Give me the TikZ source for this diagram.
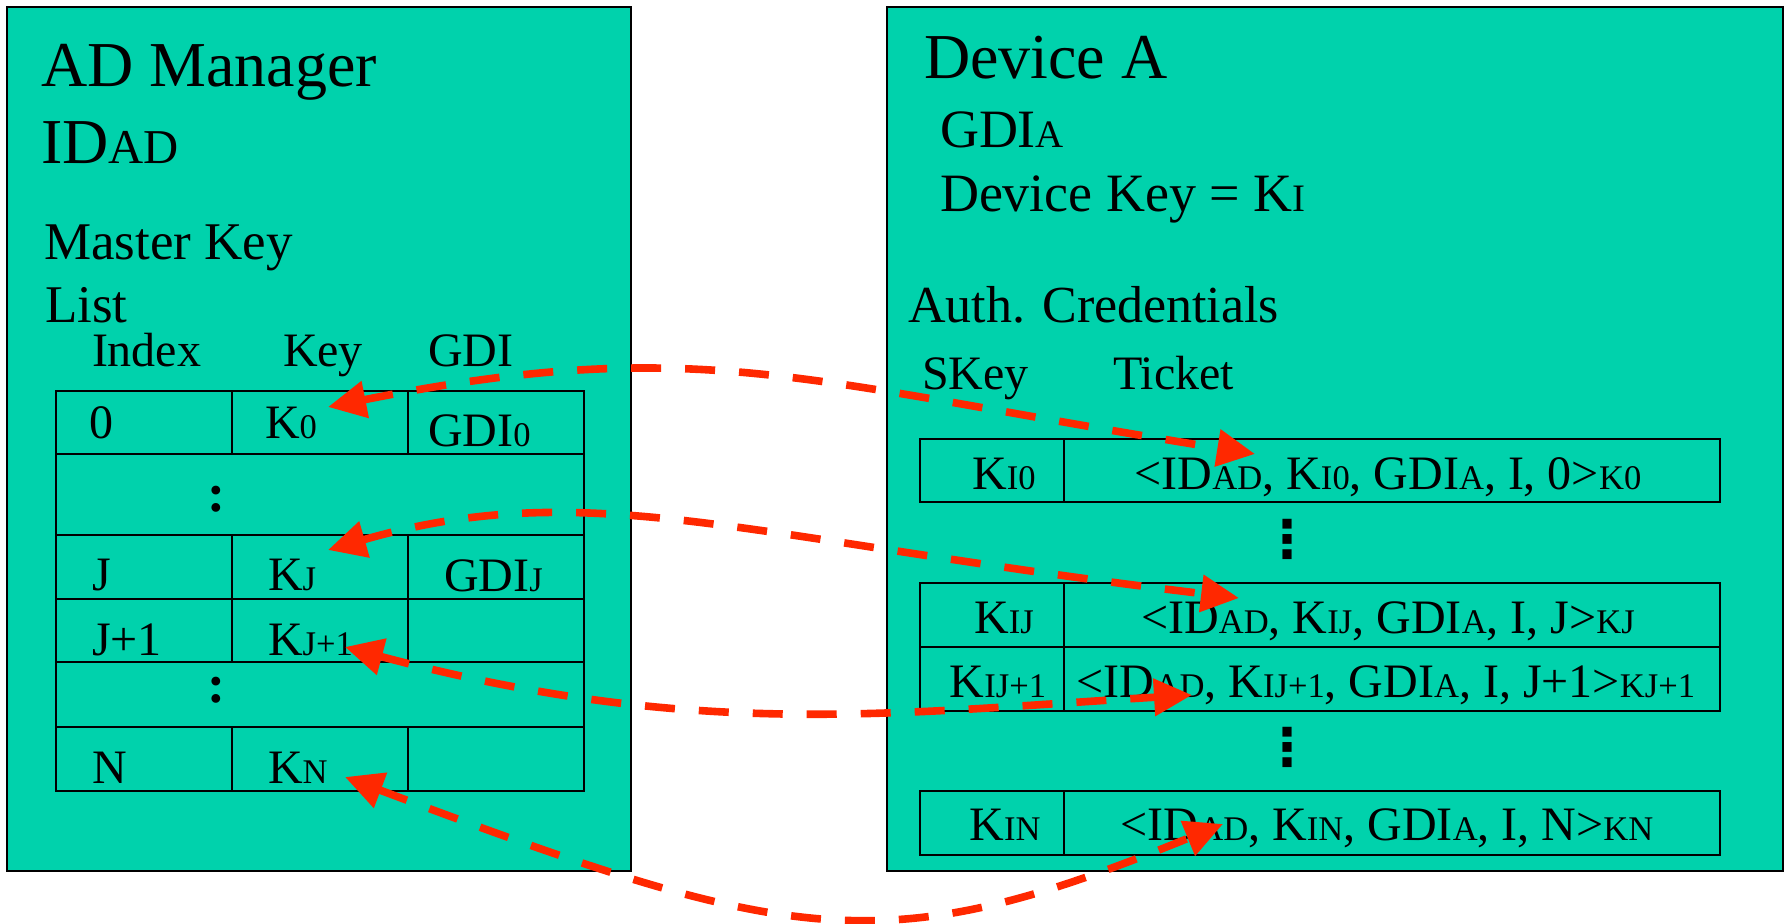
\documentclass[tikz,border=0pt]{standalone}
\usepackage{fontspec}
\setmainfont{Liberation Serif}
\newfontfamily\dotsfont{DejaVu Sans}
\usetikzlibrary{arrows.meta}
\definecolor{panelteal}{RGB}{0,210,172}
\definecolor{linkred}{RGB}{255,40,0}
\newcommand\sm[1]{\scalebox{0.72}{#1}}
\newcommand\smb[1]{\scalebox{0.76}{#1}}
\tikzset{
  panel/.style={draw=black, line width=1.1pt, fill=panelteal},
  grid/.style={draw=black, line width=1pt},
  txt/.style={inner sep=0pt, outer sep=0pt, anchor=base west},
  ctxt/.style={inner sep=0pt, outer sep=0pt, anchor=base},
  fTitle/.style={font=\fontsize{32}{38}\selectfont},
  fHead/.style={font=\fontsize{26.5}{32}\selectfont},
  fSub/.style={font=\fontsize{27}{32}\selectfont},
  fCell/.style={font=\fontsize{24}{29}\selectfont},
  colondots/.style={inner sep=0pt, outer sep=0pt, anchor=base, font=\bfseries\fontsize{27}{32}\selectfont},
  vdots/.style={inner sep=0pt, outer sep=0pt, anchor=center, font=\dotsfont\bfseries\fontsize{26}{31}\selectfont},
  link/.style={draw=linkred, line width=3.8pt, dash pattern=on 15pt off 12pt,
    {Triangle[length=19pt,width=18pt]}-{Triangle[length=19pt,width=18pt]}},
}
\begin{document}
\begin{tikzpicture}[x=0.5pt,y=-0.5pt]
\useasboundingbox (0,0) rectangle (1786,924);
\fill[white] (0,0) rectangle (1786,924);

% ---------- left panel ----------
\path[panel] (7,7) rectangle (631,871);
\node[txt,fTitle] (adm) at (41,87) {AD Manager};
\node[txt,fTitle] (idad) at (41,164) {ID\smb{AD}};
\node[txt,fHead] (mk) at (44,260) {Master Key};
\node[txt,fHead] (lst) at (45,323) {List};
\node[txt,fCell] (hidx) at (92,367) {Index};
\node[txt,fCell] (hkey) at (283,367) {Key};
\node[txt,fCell] (hgdi) at (428,367) {GDI};

\draw[grid] (56,391) rectangle (584,791);
\foreach \yy in {454,535,599,662,727} \draw[grid] (56,\yy) -- (584,\yy);
\foreach \xx in {232,408} {
  \draw[grid] (\xx,391) -- (\xx,454);
  \draw[grid] (\xx,535) -- (\xx,662);
  \draw[grid] (\xx,727) -- (\xx,791);
}
\node[txt,fCell] (i0) at (89,439) {0};
\node[txt,fCell] (k0) at (265,439) {K\sm{0}};
\node[txt,fCell] (g0) at (428,446) {GDI\sm{0}};
\node[colondots] (c1) at (216,511) {:};
\node[txt,fCell] (ij) at (92,590) {J};
\node[txt,fCell] (kj) at (268,590) {K\sm{J}};
\node[txt,fCell] (gj) at (444,591) {GDI\sm{J}};
\node[txt,fCell] (ij1) at (92,655) {J+1};
\node[txt,fCell] (kj1) at (268,655) {K\sm{J+1}};
\node[colondots] (c2) at (216,702) {:};
\node[txt,fCell] (in) at (92,783) {N};
\node[txt,fCell] (kn) at (268,783) {K\sm{N}};

% ---------- right panel ----------
\path[panel] (887,7) rectangle (1783,871);
\node[txt,fTitle] (deva) at (924,79) {Device A};
\node[txt,fSub] (gdia) at (940,148) {GDI\sm{A}};
\node[txt,fSub] (dkey) at (940,212) {Device Key = K\sm{I}};
\node[txt,font=\fontsize{26}{31}\selectfont] (auth) at (908,323) {Auth. Credentials};
\node[txt,fCell] (hskey) at (922,390) {SKey};
\node[txt,fCell] (htick) at (1113,390) {Ticket};

\draw[grid] (920,439) rectangle (1720,502);
\draw[grid] (1064,439) -- (1064,502);
\draw[grid] (920,583) rectangle (1720,711);
\draw[grid] (920,647) -- (1720,647);
\draw[grid] (1064,583) -- (1064,711);
\draw[grid] (920,791) rectangle (1720,855);
\draw[grid] (1064,791) -- (1064,855);

\node[ctxt,fCell] (s0) at (1004,489) {K\sm{I0}};
\node[ctxt,fCell] (t0) at (1388,489) {<ID\sm{AD}, K\sm{I0}, GDI\sm{A}, I, 0>\sm{K0}};
\node[vdots] (v1) at (1287,539) {⋮};
\node[ctxt,fCell] (sj) at (1004,633) {K\sm{IJ}};
\node[ctxt,fCell] (tj) at (1388,633) {<ID\sm{AD}, K\sm{IJ}, GDI\sm{A}, I, J>\sm{KJ}};
\node[ctxt,fCell] (sj1) at (998,697) {K\sm{IJ+1}};
\node[ctxt,fCell] (tj1) at (1386,697) {<ID\sm{AD}, K\sm{IJ+1}, GDI\sm{A}, I, J+1>\sm{KJ+1}};
\node[vdots] (v2) at (1287,747) {⋮};
\node[ctxt,fCell] (sn) at (1005,840) {K\sm{IN}};
\node[ctxt,fCell] (tn) at (1387,840) {<ID\sm{AD}, K\sm{IN}, GDI\sm{A}, I, N>\sm{KN}};

% ---------- connectors ----------
\coordinate (k0tip) at (328,407);
\coordinate (t0tip) at (1255,454);
\coordinate (kjtip) at (328,550);
\coordinate (tjtip) at (1239,598);
\coordinate (kj1tip) at (345,647);
\coordinate (tj1tip) at (1192,695);
\coordinate (kntip) at (345,777);
\coordinate (tntip) at (1223,824);

\draw[link] (k0tip) .. controls (698,333) and (805,382) .. (t0tip);
\draw[link] (kjtip) .. controls (588,475) and (739,538) .. (tjtip);
\draw[link] (kj1tip) .. controls (695,740) and (892,713) .. (tj1tip);
\draw[link] (kntip) .. controls (795,946) and (883,963) .. (tntip);
\end{tikzpicture}
\end{document}
